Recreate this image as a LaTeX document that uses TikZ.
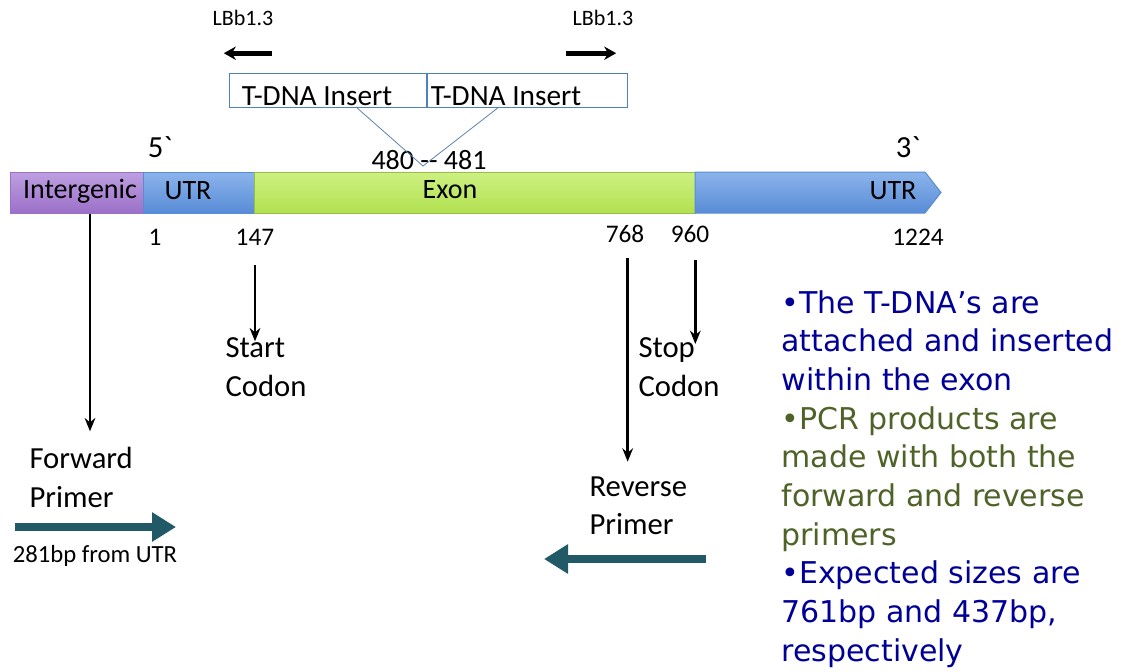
\documentclass[tikz,border=0pt]{standalone}
\usepackage{fontspec}
\setmainfont{Carlito}
\newfontfamily\notefont{DejaVu Sans}
\usetikzlibrary{arrows.meta}

\definecolor{interpurple}{RGB}{155,112,200}
\definecolor{interpurpletop}{RGB}{190,160,225}
\definecolor{utrblue}{RGB}{88,140,215}
\definecolor{utrbluetop}{RGB}{140,180,235}
\definecolor{exongreen}{RGB}{178,225,80}
\definecolor{exongreentop}{RGB}{205,240,130}
\definecolor{boxblue}{RGB}{79,129,189}
\definecolor{primerteal}{RGB}{33,89,103}
\definecolor{noteblue}{RGB}{0,0,150}
\definecolor{notegreen}{RGB}{79,98,40}

\tikzset{every picture/.style={line width=0.75pt}}
\tikzset{
  barlbl/.style={inner sep=0.75pt, font=\fontsize{21}{25}\selectfont},
  numlbl/.style={inner sep=0.75pt, font=\fontsize{19}{23}\selectfont},
  endlbl/.style={inner sep=0.75pt, font=\fontsize{23}{28}\selectfont},
  steplbl/.style={inner sep=0.75pt, align=left, font=\fontsize{23}{29}\selectfont},
  insertlbl/.style={inner sep=0.75pt, font=\fontsize{22}{26}\selectfont},
  primlbl/.style={inner sep=0.75pt, font=\fontsize{16.5}{20}\selectfont},
  downarrow/.style={line width=2.1pt, -{Stealth[length=10pt,width=8pt]}},
  primarrow/.style={-{Stealth[length=9pt,width=10pt]}, line width=3.6pt},
  tealarrow/.style={draw=primerteal, line width=6pt, -{Triangle[length=18pt,width=21pt]}},
}

\begin{document}
\begin{tikzpicture}[x=0.75pt,y=0.75pt,yscale=-1,xscale=1]
\useasboundingbox (0,0) rectangle (1123,671);

%Shape: Intergenic block
\draw [draw=interpurple, top color=interpurpletop, bottom color=interpurple] (10,172) rectangle (143,213);
%Shape: 5' UTR block
\draw [draw=utrblue, top color=utrbluetop, bottom color=utrblue] (143,172) rectangle (254,213);
%Shape: Exon block
\draw [draw=exongreen!85!black, top color=exongreentop, bottom color=exongreen] (254,172) rectangle (695,213);
%Shape: 3' UTR arrow block
\draw [draw=utrblue, top color=utrbluetop, bottom color=utrblue] (695,172) -- (925,172) -- (941,192.5) -- (925,213) -- (695,213) -- cycle;

%Shape: T-DNA insert boxes
\draw [draw=boxblue, fill=white] (229,73) rectangle (427,107);
\draw [draw=boxblue, fill=white] (427,73) rectangle (627,107);
\draw [boxblue, line width=1.5pt] (427,73) -- (427,107);

% Text Node
\node [barlbl] (inter) at (80,191) {Intergenic};
% Text Node
\node [barlbl] (utra) at (188,191) {UTR};
% Text Node
\node [barlbl] (exon) at (450,190) {Exon};
% Text Node
\node [barlbl] (utrb) at (893,191) {UTR};

% Text Node
\node [endlbl] (five) at (160,147) {5\textasciigrave};
% Text Node
\node [endlbl] (three) at (908,147) {3\textasciigrave};

% Text Node
\node [insertlbl] (insa) at (317,96) {T-DNA Insert};
% Text Node
\node [insertlbl] (insb) at (506,96) {T-DNA Insert};
% Text Node
\node [barlbl] (site) at (429,160) {480 {-}{-} 481};

\coordinate (join) at (423,166);
\draw [boxblue!70!gray, line width=0.6pt] (356,107) -- (join) -- (499,107);

% Text Node
\node [primlbl] (lbleft) at (243,18) {LBb1.3};
% Text Node
\node [primlbl] (lbright) at (603,18) {LBb1.3};
\draw [primarrow] (lbleft.south east) ++(-3,26) coordinate (lba) -- ++(-48,0);
\draw [primarrow] (lbright.south west) ++(-5,26) coordinate (lbb) -- ++(50,0);

% Text Node
\node [numlbl] (n1) at (155,237) {1};
% Text Node
\node [numlbl] (n147) at (255,237) {147};
% Text Node
\node [numlbl] (n768) at (625,234) {768};
% Text Node
\node [numlbl] (n960) at (690,234) {960};
% Text Node
\node [numlbl] (n1224) at (918,237) {1224};

% Text Node
\node [steplbl, anchor=north west] (fwd) at (28,446) {Forward\\Primer};
% Text Node
\node [steplbl, anchor=north west] (start) at (224,336) {Start\\Codon};
% Text Node
\node [steplbl, anchor=north west] (rev) at (588,475) {Reverse\\Primer};
% Text Node
\node [steplbl, anchor=north west] (stop) at (637,336) {Stop\\Codon};

\coordinate (fwdtop) at (90,214);
\draw [downarrow] (fwdtop) -- ([yshift=-11]fwdtop |- fwd.north);
\draw [downarrow] ([yshift=14]n147.south) -- ([yshift=4]n147.south |- start.north);
\draw [downarrow] ([xshift=2,yshift=10]n768.south) -- ([xshift=2,yshift=-10]n768.south |- rev.north);
\draw [downarrow] ([xshift=4,yshift=12]n960.south) -- ([xshift=4,yshift=6]n960.south |- stop.north);

%Shape: primer arrows
\coordinate (fwdtail) at (15,527);
\coordinate (fwdtip) at (176,527);
\draw [tealarrow] (fwdtail) -- (fwdtip);
\coordinate (revtail) at (706,559);
\coordinate (revtip) at (544,559);
\draw [tealarrow] (revtail) -- (revtip);

% Text Node
\node [primlbl, font=\fontsize{18.5}{22}\selectfont] (fwdnote) at (95,556) {281bp from UTR};

% Text Node
\node [anchor=north west, inner sep=0pt, align=left, font=\notefont\fontsize{22.5}{29}\selectfont] (notes) at (781,290) {%
\textcolor{noteblue}{•The T-DNA’s are}\\
\textcolor{noteblue}{attached and inserted}\\
\textcolor{noteblue}{within the exon}\\
\textcolor{notegreen}{•PCR products are}\\
\textcolor{notegreen}{made with both the}\\
\textcolor{notegreen}{forward and reverse}\\
\textcolor{notegreen}{primers}\\
\textcolor{noteblue}{•Expected sizes are}\\
\textcolor{noteblue}{761bp and 437bp,}\\
\textcolor{noteblue}{respectively}};

\end{tikzpicture}
\end{document}
